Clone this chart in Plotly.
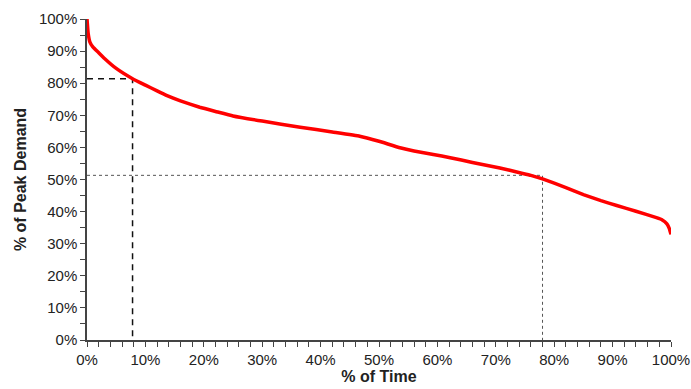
import plotly.graph_objects as go

# Load duration curve
time_pct = [0, 0.2, 0.5, 1, 2, 3, 5, 7.8, 10, 12, 13.6, 16, 19.3, 22, 25, 30, 36.5, 42,
            46.7, 50, 53.6, 56, 59.3, 62.2, 66, 70.7, 74.1, 76, 78, 82, 85, 88, 90.7,
            94, 97.5, 98.5, 99.3, 99.7, 100]
demand_pct = [100, 95.5, 92.8, 91.3, 89.5, 87.7, 84.6, 81.4, 79.4, 77.6, 76.2, 74.5, 72.5,
              71.2, 69.8, 68.2, 66.3, 64.8, 63.5, 61.9, 59.9, 58.9, 57.8, 56.8, 55.3, 53.6,
              52.1, 51.3, 50.2, 47.5, 45.3, 43.4, 41.9, 40.1, 38.1, 37.4, 36.2, 34.8, 32.9]

# Reference markers
mark1_x, mark1_y = 7.8, 81.4
mark2_x, mark2_y = 78, 51.3

tick_vals = [0, 10, 20, 30, 40, 50, 60, 70, 80, 90, 100]
tick_text = [f"{v}%" for v in tick_vals]

fig = go.Figure()

# marker 1 (black dashed)
fig.add_trace(go.Scatter(x=[0, mark1_x, mark1_x], y=[mark1_y, mark1_y, 0], mode="lines",
                         line=dict(color="#111111", width=1.5, dash="6px,5px"),
                         hoverinfo="skip", showlegend=False))
# marker 2 (grey fine dashed)
fig.add_trace(go.Scatter(x=[0, mark2_x, mark2_x], y=[mark2_y, mark2_y, 0], mode="lines",
                         line=dict(color="#555555", width=1, dash="3px,3px"),
                         hoverinfo="skip", showlegend=False))

fig.add_trace(go.Scatter(x=time_pct, y=demand_pct, mode="lines",
                         line=dict(color="#ff0000", width=3.5, shape="spline", smoothing=0.3),
                         cliponaxis=False, showlegend=False))

axis_common = dict(
    range=[0, 100], tickvals=tick_vals, ticktext=tick_text, automargin=False,
    showgrid=False, zeroline=False, showline=True, linecolor="#444444", linewidth=1.5,
    ticks="outside", ticklen=5, tickwidth=1.2, tickcolor="#444444",
    tickfont=dict(family="Liberation Sans, Arial", size=15, color="#222222"),
)

fig.update_layout(
    width=691, height=389,
    margin=dict(l=87, r=20, t=19, b=49),
    paper_bgcolor="white", plot_bgcolor="white",
    xaxis=dict(**axis_common,
               minor=dict(dtick=2, ticks="outside", ticklen=5, tickwidth=1.2, tickcolor="#444444"),
               title=dict(text="<b>% of Time</b>", standoff=2,
                          font=dict(family="Liberation Sans, Arial", size=16, color="#222222"))),
    yaxis=dict(**axis_common,
               minor=dict(dtick=5, ticks="outside", ticklen=5, tickwidth=1.2, tickcolor="#444444"),
               title=dict(text="<b>% of Peak Demand</b>", standoff=8,
                          font=dict(family="Liberation Sans, Arial", size=16, color="#222222"))),
)

fig.write_html("out.html", config={"displayModeBar": False},
               post_script="document.body.style.margin='0';document.body.style.overflow='hidden';")
